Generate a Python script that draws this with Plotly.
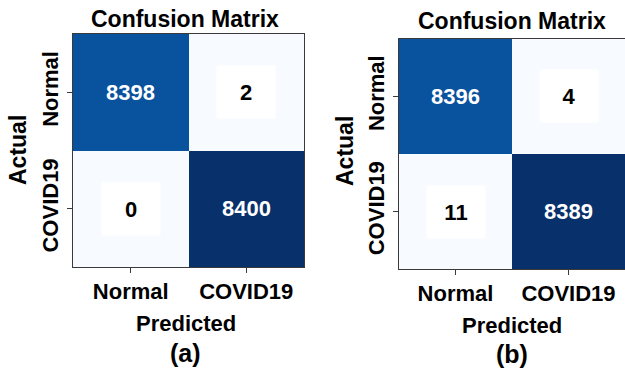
import plotly.graph_objects as go

# Class labels shared by both matrices
labels = ["Normal", "COVID19"]

# Counts shown in each cell (rows = actual, columns = predicted)
counts_a = [[8398, 2], [0, 8400]]
counts_b = [[8396, 4], [11, 8389]]

# Cell shading on the Blues scale (0 = lightest, 1 = darkest)
shade_a = [[0.87, 0.0], [0.0, 1.0]]
shade_b = [[0.87, 0.0], [0.0, 1.0]]

panel_tags = ["(a)", "(b)"]

W, H = 625, 376
FONT = "Liberation Sans, Arial, sans-serif"


def px_x(v):
    return v / W


def px_y(v):
    return 1 - v / H


fig = go.Figure()

panels = [
    dict(counts=counts_a, shade=shade_a, xa="x", ya="y",
         xdom=[px_x(73), px_x(304)], ydom=[px_y(267), px_y(34)],
         title_xy=(185, 19), pred_xy=(186, 323), tag_xy=(185, 353),
         actual_xy=(18, 150)),
    dict(counts=counts_b, shade=shade_b, xa="x2", ya="y2",
         xdom=[px_x(399), 1.0], ydom=[px_y(269), px_y(39)],
         title_xy=(512, 21), pred_xy=(512, 325), tag_xy=(512, 354),
         actual_xy=(345, 151)),
]

annotations = []
for i, p in enumerate(panels):
    fig.add_trace(go.Heatmap(
        z=p["shade"], x=labels, y=labels,
        colorscale="Blues", zmin=0, zmax=1, showscale=False,
        xaxis=p["xa"], yaxis=p["ya"], hoverinfo="skip",
    ))
    axis_common = dict(
        showline=True, mirror=True, linecolor="#3a3a3a", linewidth=1,
        ticks="outside", ticklen=5, tickcolor="#3a3a3a",
        tickfont=dict(family=FONT, size=22, color="black", weight="bold"),
        showgrid=False, zeroline=False, fixedrange=True,
    )
    xkey = "xaxis" if i == 0 else "xaxis2"
    ykey = "yaxis" if i == 0 else "yaxis2"
    fig.update_layout({
        xkey: dict(domain=p["xdom"], anchor=p["ya"], **axis_common),
        ykey: dict(domain=p["ydom"], anchor=p["xa"], autorange="reversed",
                   tickangle=-90, **axis_common),
    })

    # Cell values
    for r in range(2):
        for c in range(2):
            v = p["counts"][r][c]
            dark = p["shade"][r][c] > 0.5
            ann = dict(
                x=labels[c], y=labels[r], xref=p["xa"], yref=p["ya"],
                text=str(v), showarrow=False,
                font=dict(family=FONT, size=22, weight="bold",
                          color="white" if dark else "black"),
            )
            if not dark:
                ann.update(bgcolor="white", width=56, height=50)
            annotations.append(ann)

    text_items = [
        ("Confusion Matrix", p["title_xy"], 0, 23),
        ("Predicted", p["pred_xy"], 0, 22),
        (panel_tags[i], p["tag_xy"], 0, 25),
        ("Actual", p["actual_xy"], -90, 23),
    ]
    for txt, (tx, ty), ang, sz in text_items:
        annotations.append(dict(
            x=px_x(tx), y=px_y(ty), xref="paper", yref="paper",
            xanchor="center", yanchor="middle", text=txt, showarrow=False,
            textangle=ang,
            font=dict(family=FONT, size=sz, color="black", weight="bold"),
        ))

fig.update_layout(
    width=W, height=H,
    margin=dict(l=0, r=0, t=0, b=0),
    paper_bgcolor="white", plot_bgcolor="white",
    annotations=annotations,
    showlegend=False,
)

fig.write_html("out.html")
